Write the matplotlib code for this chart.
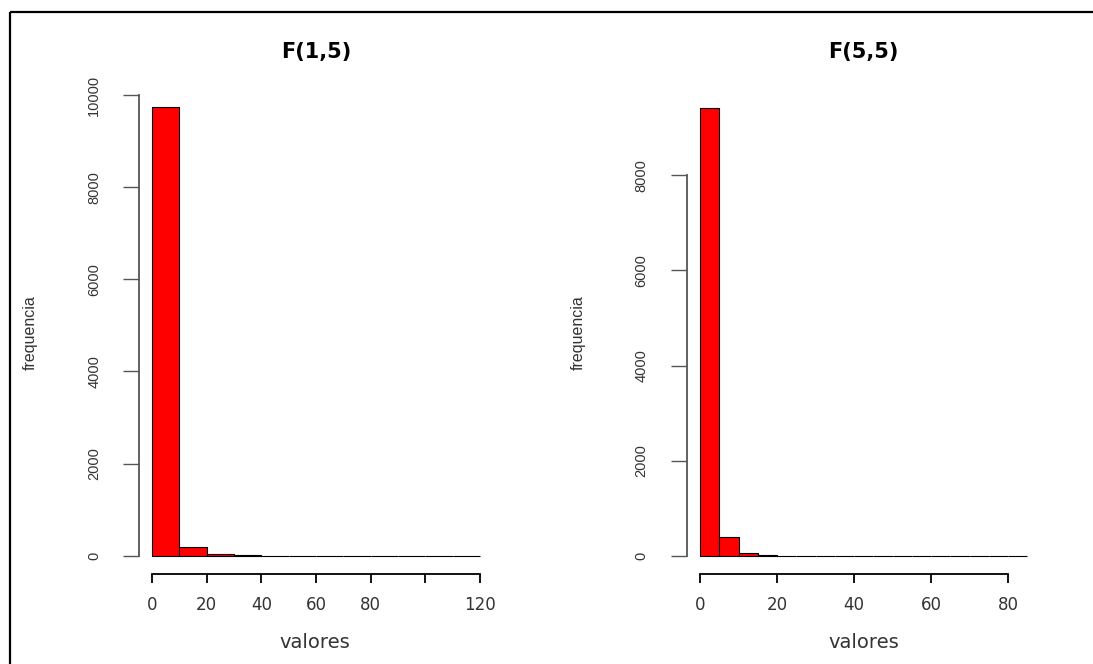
import matplotlib
matplotlib.use("Agg")
import matplotlib.pyplot as plt
from matplotlib import font_manager
from matplotlib.lines import Line2D

# histogram data
f15_edges = [0, 10, 20, 30, 40, 50, 60, 70, 80, 90, 100, 110, 120]
f15_counts = [9735, 182, 35, 6, 3, 2, 1, 1, 0, 0, 0, 1]
f15_yticks = [0, 2000, 4000, 6000, 8000, 10000]
f15_xticks = [0, 20, 40, 60, 80, 100, 120]
f15_xlabels = ["0", "20", "40", "60", "80", "", "120"]

f55_edges = [0, 5, 10, 15, 20, 25, 30, 35, 40, 45, 50, 55, 60, 65, 70, 75, 80, 85]
f55_counts = [9420, 400, 65, 20, 4, 2, 1, 1, 0, 0, 0, 0, 0, 0, 0, 0, 1]
f55_yticks = [0, 2000, 4000, 6000, 8000]
f55_xticks = [0, 20, 40, 60, 80]
f55_xlabels = ["0", "20", "40", "60", "80"]

titles = ["F(1,5)", "F(5,5)"]
xlab = "valores"
ylab = "frequencia"

W, H = 1093, 664
fig = plt.figure(figsize=(W / 100, H / 100), dpi=100)

# narrow font for rotated texts if it exists
names = {f.name for f in font_manager.fontManager.ttflist}
if "Liberation Sans Narrow" in names:
    narrow, ytick_size, ylab_size = "Liberation Sans Narrow", 12, 13.5
else:
    narrow, ytick_size, ylab_size = "Liberation Sans", 10.5, 11.5


def px(x0, y0, x1, y1):
    # pixel box (top-left origin) -> figure fraction rect
    return [x0 / W, 1 - y1 / H, (x1 - x0) / W, (y1 - y0) / H]


def make_hist(rect, edges, counts, ylim, yticks, xticks, xlabels, yoff, xoff):
    ax = fig.add_axes(rect)
    n, bins, patches = ax.hist(edges[:-1], bins=edges, weights=counts,
                               color="red", edgecolor="black", linewidth=0.8)
    for p in patches:
        p.set_clip_on(False)
    ax.set_xlim(edges[0], edges[-1])
    ax.set_ylim(0, ylim)
    for s in ["top", "right"]:
        ax.spines[s].set_visible(False)
    ax.spines["left"].set_position(("outward", yoff))
    ax.spines["bottom"].set_position(("outward", xoff))
    ax.spines["left"].set_bounds(yticks[0], yticks[-1])
    ax.spines["bottom"].set_bounds(xticks[0], xticks[-1])
    ax.spines["left"].set_color("#555555")
    ax.spines["left"].set_linewidth(1.3)
    ax.spines["bottom"].set_linewidth(1.3)
    ax.set_yticks(yticks)
    ax.set_yticklabels([str(v) for v in yticks], rotation=90, va="center",
                       family=[narrow, "DejaVu Sans"], fontsize=ytick_size,
                       color="#333333")
    ax.set_xticks(xticks)
    ax.set_xticklabels(xlabels, family="DejaVu Sans", fontsize=12,
                       color="#333333")
    ax.tick_params(axis="y", length=11.5, width=1.0, color="#555555", pad=16)
    ax.tick_params(axis="x", length=6.5, width=1.3, pad=9.5)
    return ax


make_hist(px(152, 95.0, 480, 555.7), f15_edges, f15_counts, 10000,
          f15_yticks, f15_xticks, f15_xlabels, 9.1, 13.2)
make_hist(px(700, 175.3, 1027.25, 555.7), f55_edges, f55_counts, 8000,
          f55_yticks, f55_xticks, f55_xlabels, 9.6, 13.2)

# titles and axis labels
for cx, cy, t in [(316, 52, titles[0]), (863, 52, titles[1])]:
    fig.text(cx / W, 1 - cy / H, t, ha="center", va="center",
             fontsize=15, fontweight="bold", family="DejaVu Sans")
for cx in [315, 864]:
    fig.text(cx / W, 1 - 642 / H, xlab, ha="center", va="center",
             fontsize=14, family="DejaVu Sans", color="#333333")
for cx in [30.5, 578.5]:
    fig.text(cx / W, 1 - 333 / H, ylab, ha="center", va="center",
             rotation=90, fontsize=ylab_size, family=[narrow, "DejaVu Sans"],
             color="#333333")

# frame on the left and top edges
fig.add_artist(Line2D([10 / W, 1], [1 - 12 / H, 1 - 12 / H], color="black",
                      linewidth=1.6, transform=fig.transFigure,
                      solid_capstyle="butt"))
fig.add_artist(Line2D([10 / W, 10 / W], [0, 1 - 12 / H], color="black",
                      linewidth=1.6, transform=fig.transFigure,
                      solid_capstyle="butt"))

fig.savefig("out.png", dpi=100)
